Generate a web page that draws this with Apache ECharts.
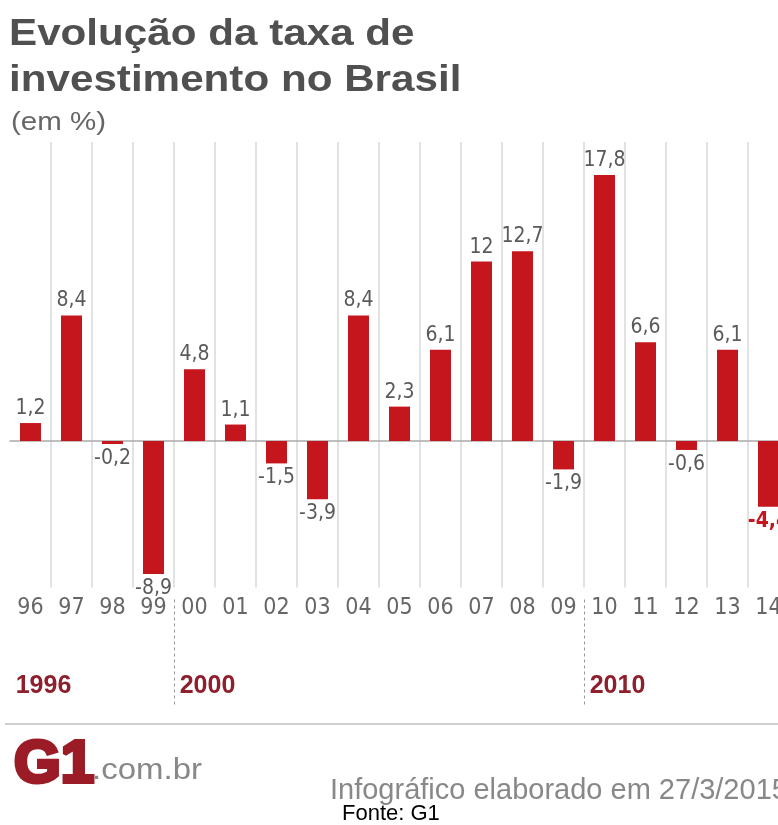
<!DOCTYPE html>
<html>
<head>
<meta charset="utf-8">
<title>Evolução da taxa de investimento no Brasil</title>
<script src="https://cdn.jsdelivr.net/npm/echarts@6/dist/echarts.min.js"></script>
<style>
  html, body { margin: 0; padding: 0; background: #fff; overflow: hidden; }
  /* the last year runs past the right edge of the window */
  #chart { width: 800px; height: 825px; }
</style>
</head>
<body>
<div id="chart"></div>
<script>
// Taxa de investimento (variação anual, em %)
const years = ['96', '97', '98', '99', '00', '01', '02', '03', '04', '05',
               '06', '07', '08', '09', '10', '11', '12', '13', '14'];
const values = [1.2, 8.4, -0.2, -8.9, 4.8, 1.1, -1.5, -3.9, 8.4, 2.3,
                6.1, 12, 12.7, -1.9, 17.8, 6.6, -0.6, 6.1, -4.4];
// Décadas marcadas no eixo: categoria onde começam e rótulo
const decadeStart = ['96', '00', '10'];
const decadeLabel = ['1996', '2000', '2010'];
const highlightYear = '14';

const RED = '#c5161d';
const DARK_RED = '#8e1f2c';
const NARROW = "'Liberation Sans Narrow', 'DejaVu Sans Condensed', 'Liberation Sans', sans-serif";
const SANS = "'Liberation Sans', Arial, sans-serif";

const fmt = v => String(v).replace('.', ',');

const barData = values.map((v, i) => {
  const hl = years[i] === highlightYear;
  return {
    value: v,
    label: {
      position: v >= 0 ? 'top' : 'bottom',
      color: hl ? RED : '#5a5a5a',
      fontWeight: hl ? 'bold' : 'normal'
    }
  };
});

const chart = echarts.init(document.getElementById('chart'), null, { renderer: 'canvas' });

chart.setOption({
  animation: false,
  backgroundColor: '#fff',
  grid: { left: 10, right: 11, top: 142, bottom: 237.5 },
  yAxis: {
    type: 'value', min: -9.8, max: 20, show: false
  },
  xAxis: [
    { // linha do zero + linhas verticais entre os anos
      type: 'category', data: years, position: 'bottom',
      axisLine: { show: true, onZero: true, lineStyle: { color: '#aaa', width: 1.5 } },
      axisTick: { show: false },
      axisLabel: { show: false },
      splitLine: {
        show: true,
        interval: (i) => i > 0,
        lineStyle: { color: '#e2e2e2', width: 2 }
      }
    },
    { // anos abreviados
      type: 'category', data: years, position: 'bottom',
      axisLine: { show: false, onZero: false },
      axisTick: { show: false },
      axisLabel: {
        interval: 0, margin: 9, fontSize: 23, color: '#666', fontFamily: NARROW
      }
    },
    { // décadas com separadores tracejados
      type: 'category', data: years, position: 'bottom', offset: 12,
      axisLine: { show: false, onZero: false },
      axisTick: {
        show: true,
        interval: (i, v) => i > 0 && decadeStart.includes(v),
        length: 108,
        lineStyle: { color: '#999', width: 1, type: [3, 3] }
      },
      axisLabel: {
        interval: (i, v) => decadeStart.includes(v),
        formatter: (v) => decadeLabel[decadeStart.indexOf(v)] || '',
        margin: 74,
        padding: [0, 0, 0, 26],
        fontSize: 25, fontWeight: 'bold', color: DARK_RED, fontFamily: SANS
      }
    }
  ],
  series: [{
    type: 'bar',
    xAxisIndex: 0,
    data: barData,
    barWidth: 21,
    itemStyle: { color: RED },
    label: {
      show: true,
      distance: 4,
      fontSize: 21,
      fontFamily: NARROW,
      formatter: (p) => fmt(p.value)
    }
  }],
  graphic: [
    {
      type: 'text', left: 9, top: 12, scaleX: 1.14,
      style: {
        text: 'Evolução da taxa de\ninvestimento no Brasil',
        font: 'bold 37px ' + SANS, fill: '#505050', lineHeight: 46
      }
    },
    {
      type: 'text', left: 11, top: 111, scaleX: 1.18,
      style: { text: '(em %)', font: '25px ' + SANS, fill: '#666' }
    },
    {
      type: 'line', shape: { x1: 5, y1: 724, x2: 800, y2: 724 },
      style: { stroke: '#d0d0d0', lineWidth: 2 }
    },
    {
      type: 'text', left: 12, top: 733,
      style: {
        text: 'G1', font: 'bold 60px ' + SANS, fill: '#9b1c26',
        stroke: '#9b1c26', lineWidth: 4
      }
    },
    {
      type: 'text', left: 92, top: 756, scaleX: 1.1,
      style: { text: '.com.br', font: '30px ' + SANS, fill: '#888' }
    },
    {
      type: 'text', left: 330, top: 776,
      style: { text: 'Infográfico elaborado em 27/3/2015', font: '29px ' + SANS, fill: '#888' }
    },
    {
      type: 'text', left: 342, top: 803,
      style: { text: 'Fonte: G1', font: '22px ' + SANS, fill: '#000' }
    }
  ]
});
</script>
</body>
</html>
